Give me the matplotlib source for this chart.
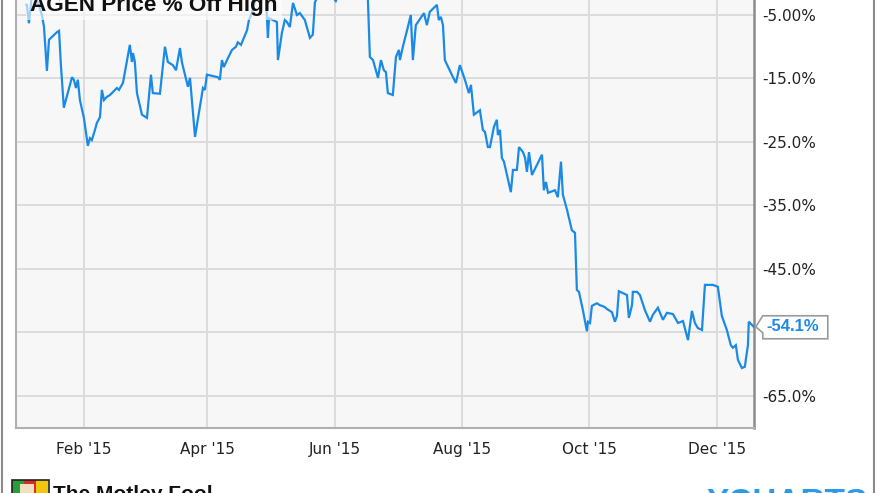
import matplotlib

matplotlib.use("Agg")
import matplotlib.pyplot as plt
import matplotlib.dates as mdates
from matplotlib.patches import Polygon, Rectangle
import numpy as np
import pandas as pd

# AGEN % off 52-week high, 2015. days = days since 2015-01-01
days = [3.7, 4.7, 6.1, 9.0, 10.9, 11.9, 13.3, 14.3, 18.1, 19.1, 20.0, 21.4, 25.3, 26.2, 27.2,
        28.1, 29.1, 31.0, 32.9, 33.9, 34.8, 36.3, 37.2, 38.7, 39.6, 40.6, 42.0, 43.5, 46.8,
        47.8, 49.7, 53.0, 54.0, 54.5, 55.4, 56.4, 58.8, 61.2, 63.1, 64.0, 67.4, 69.8, 71.2,
        73.6, 75.1, 77.0, 77.9, 80.8, 81.8, 84.2, 88.0, 88.9, 89.9, 95.1, 96.1, 97.1, 98.0,
        99.5, 101.9, 103.8, 104.7, 106.2, 109.1, 110.0, 111.4, 113.4, 115.3, 118.1, 119.1,
        119.6, 123.4, 123.9, 125.8, 127.2, 128.2, 129.6, 131.1, 133.0, 134.4, 136.8, 139.2,
        140.6, 141.6, 144.0, 146.9, 148.8, 151.6, 153.6, 157.4, 160.7, 164.1, 166.9, 167.9,
        169.4, 171.8, 173.2, 174.6, 175.6, 176.5, 178.9, 180.4, 181.8, 182.3, 183.7, 186.1,
        187.5, 188.5, 189.9, 193.8, 195.2, 196.6, 200.0, 200.9, 201.9, 202.9, 203.8, 207.7,
        209.1, 211.0, 213.4, 215.3, 216.3, 217.7, 220.6, 222.0, 223.0, 224.4, 225.4, 227.3,
        228.7, 229.2, 230.2, 231.1, 232.1, 235.4, 236.4, 238.3, 239.3, 241.2, 242.2, 243.1,
        244.1, 245.5, 250.3, 251.2, 252.2, 253.2, 256.5, 257.9, 259.4, 260.3, 262.3, 264.6,
        266.1, 267.0, 268.0, 269.9, 271.8, 272.3, 273.3, 274.2, 276.6, 278.0, 279.0, 280.4,
        281.4, 283.8, 285.2, 286.2, 287.1, 291.0, 291.9, 293.4, 293.8, 295.8, 297.2, 299.6,
        302.0, 303.4, 305.8, 308.2, 310.1, 313.0, 315.4, 317.8, 320.2, 322.1, 323.5, 324.9,
        326.9, 328.3, 332.1, 334.5, 336.4, 338.8, 340.7, 341.7, 343.1, 344.1, 346.0, 347.4,
        348.9, 349.3, 350.8, 351.7]
pct_off_high = [-3.4, -6.3, -1.9, -3.0, -5.0, -6.9, -13.8, -8.9, -7.7, -7.5, -12.9, -19.6,
                -14.8, -15.2, -16.5, -15.2, -18.4, -21.2, -25.6, -24.4, -24.7, -23.1, -22.0,
                -21.1, -16.8, -18.4, -17.9, -17.6, -16.5, -16.8, -15.7, -9.7, -12.4, -11.0,
                -12.4, -17.3, -20.7, -21.2, -14.4, -17.3, -17.4, -10.0, -12.4, -12.9, -13.7,
                -10.2, -12.4, -16.3, -14.9, -24.2, -16.5, -16.8, -14.4, -14.8, -15.2, -12.1,
                -13.2, -12.1, -10.5, -10.0, -9.3, -9.7, -7.4, -5.8, -4.7, -2.2, -1.1, -1.9,
                -8.6, -5.5, -6.1, -12.1, -7.8, -5.8, -6.1, -6.9, -3.1, -5.0, -4.7, -5.8, -8.6,
                -8.1, -3.0, -1.4, -0.7, -1.6, -2.8, -1.4, -0.3, 0.0, -1.1, -1.9, -11.6, -12.1,
                -14.9, -12.1, -13.7, -14.0, -17.3, -17.6, -11.6, -10.5, -12.1, -10.0, -6.9,
                -5.0, -12.1, -6.6, -4.7, -6.6, -4.5, -3.4, -5.8, -5.3, -6.6, -12.1, -14.8,
                -15.7, -12.9, -15.2, -17.3, -16.0, -20.7, -20.0, -23.1, -23.4, -25.8, -25.8,
                -22.6, -21.5, -23.9, -23.1, -27.5, -28.1, -32.9, -29.4, -29.4, -25.8, -26.6,
                -27.5, -29.7, -26.6, -30.2, -27.0, -32.6, -31.3, -33.0, -32.6, -33.7, -28.1,
                -33.3, -35.7, -38.9, -39.3, -48.3, -48.6, -51.5, -54.8, -53.3, -53.5, -50.8,
                -50.4, -50.7, -50.8, -51.0, -51.3, -51.8, -53.3, -52.4, -48.5, -49.1, -52.7,
                -50.7, -48.6, -48.6, -49.1, -51.5, -53.3, -52.2, -51.1, -53.0, -51.9, -52.1,
                -53.5, -53.2, -56.2, -51.6, -53.5, -54.3, -54.6, -47.5, -47.5, -47.8, -52.4,
                -54.6, -57.0, -57.4, -57.0, -59.3, -60.6, -60.4, -57.0, -53.3, -53.8, -54.1]

y_ticks = [-5, -15, -25, -35, -45, -55, -65]
y_tick_labels = ["-5.00%", "-15.0%", "-25.0%", "-35.0%", "-45.0%", "", "-65.0%"]
title = "AGEN Price % Off High"
last_label = "-54.1%"

LINE = "#1a8ae6"
W, H = 876, 493

dates = pd.Timestamp("2015-01-01") + pd.to_timedelta(days, unit="D")

fig = plt.figure(figsize=(W / 100, H / 100), dpi=100)
fig.patch.set_facecolor("white")
ax = fig.add_axes([16 / W, 65 / H, 738 / W, 428 / H])
ax.set_facecolor("#f7f7f7")
ax.plot(dates, pct_off_high, color=LINE, lw=1.6, solid_joinstyle="miter", zorder=3)

t0 = pd.Timestamp("2015-01-01")
ax.set_xlim(t0 + pd.Timedelta(days=-1.5), t0 + pd.Timedelta(days=351.8))
ax.set_ylim(-70.04, -2.64)

ax.xaxis.set_major_locator(mdates.MonthLocator(bymonth=[2, 4, 6, 8, 10, 12]))
ax.xaxis.set_major_formatter(mdates.DateFormatter("%b '%y"))
ax.set_yticks(y_ticks)
ax.set_yticklabels(y_tick_labels)
ax.yaxis.tick_right()
ax.tick_params(axis="both", length=0, colors="#222222", labelsize=11)
ax.tick_params(axis="x", pad=10)
ax.tick_params(axis="y", pad=6)
for lab in ax.get_xticklabels() + ax.get_yticklabels():
    lab.set_family("DejaVu Sans")
ax.grid(True, color="#dcdcdc", lw=1.4, zorder=1)
ax.set_axisbelow(True)
ax.spines["top"].set_visible(False)
ax.spines["left"].set_color("#b0b0b0")
ax.spines["bottom"].set_color("#b0b0b0")
ax.spines["right"].set_color("#8c8c8c")
ax.spines["left"].set_linewidth(1.5)
ax.spines["bottom"].set_linewidth(1.5)
ax.spines["right"].set_linewidth(1.8)

# title, half cut off at the top like the original crop
fig.text(30 / W, 1 - 11 / H, title, fontsize=16.2, fontweight="bold", family="Liberation Sans",
         color="#111111", va="baseline", ha="left", zorder=5,
         bbox=dict(facecolor="white", edgecolor="none", alpha=0.6, pad=3))

# last-value flag
fig.canvas.draw()
tip = ax.transData.transform((mdates.date2num(dates[-1]), pct_off_high[-1]))
tx, ty = tip[0] + 2, tip[1]
flag = Polygon([(tx, ty), (tx + 7, ty + 11), (tx + 72, ty + 11), (tx + 72, ty - 12),
                (tx + 7, ty - 12), (tx + 7, ty - 6)], closed=True, transform=None,
               facecolor="white", edgecolor="#9a9a9a", lw=1.2, zorder=6)
fig.add_artist(flag)
fig.text((tx + 11) / W, ty / H, last_label, color=LINE, fontsize=12, fontweight="bold",
         family="Liberation Sans", va="center", ha="left", zorder=7)

# outer frame of the screenshot
fig.add_artist(plt.Line2D([1.5 / W, 1.5 / W], [0, 1], color="#8a8a8a", lw=1.5))
fig.add_artist(plt.Line2D([1 - 2.5 / W, 1 - 2.5 / W], [0, 1], color="#8a8a8a", lw=1.5))

# footer logos, cut off by the bottom of the crop
for x0, col in [(12, "#2a9d3a"), (24, "#d62b2b"), (36, "#f2c70f")]:
    fig.add_artist(Rectangle((x0, 0), 12, 13, transform=None, facecolor=col, edgecolor="none"))
fig.add_artist(Rectangle((12, -2), 37, 15, transform=None, facecolor="none",
                         edgecolor="#222222", lw=1.2))
fig.add_artist(Rectangle((20, 0), 14, 9, transform=None, facecolor="#f0dfc0", edgecolor="none"))
fig.text(53 / W, 1 - 485 / H, "The Motley Fool", fontsize=15, fontweight="bold",
         family="Liberation Sans", color="#111111", va="top", ha="left")
fig.text(706 / W, 1 - 488 / H, "YCHARTS", fontsize=24, fontweight="bold",
         family="Liberation Sans", color="#2b9be8", va="top", ha="left")

fig.savefig("out.png", dpi=100)
